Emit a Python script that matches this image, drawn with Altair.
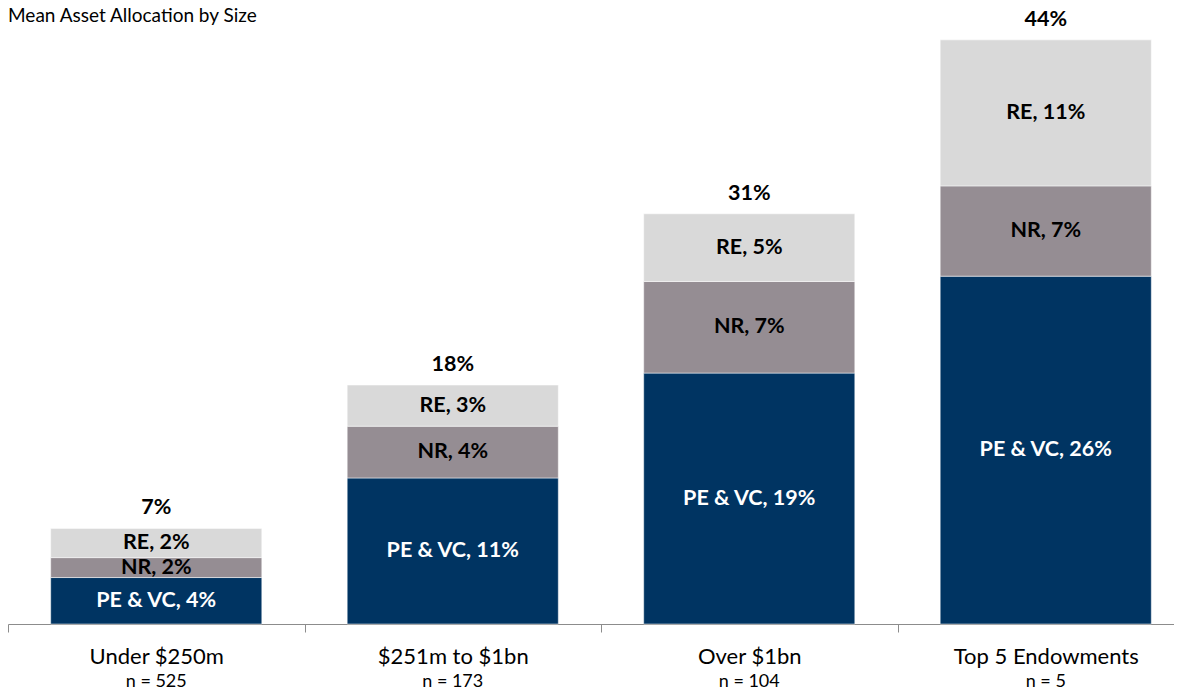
import altair as alt
import pandas as pd

# ---- data ----
categories = ["Under $250m", "$251m to $1bn", "Over $1bn", "Top 5 Endowments"]
n_labels = ["n = 525", "n = 173", "n = 104", "n = 5"]
series = ["PE & VC", "NR", "RE"]
pe_vc = [3.5, 11.0, 18.9, 26.2]
nr = [1.5, 3.9, 6.9, 6.8]
re_ = [2.2, 3.1, 5.1, 11.0]
title_text = "Mean Asset Allocation by Size"

colors = ["#003462", "#958D93", "#D9D9D9"]
FONT = "Lato"

W = 1166          # drawn plot width (page is 1182 wide with 8px margins)
BAND_RANGE = 1186  # the category bands run slightly past the right edge, as in the reference
STEP = BAND_RANGE / len(categories)


def pct(v):
    return f"{int(v + 0.5)}%"


# ---- tables built from the arrays ----
rows = []
totals = []
for i, cat in enumerate(categories):
    base = 0.0
    for s, vals in zip(series, [pe_vc, nr, re_]):
        v = vals[i]
        rows.append({"cat": cat, "series": s, "y0": base, "y1": base + v,
                     "mid": base + v / 2, "label": f"{s}, {pct(v)}"})
        base += v
    totals.append({"cat": cat, "total": base, "label": pct(base), "n": n_labels[i]})

seg = pd.DataFrame(rows)
tot = pd.DataFrame(totals)
ttl = pd.DataFrame({"t": [title_text]})

yscale = alt.Scale(domain=[0, 46.4], nice=False, zero=True)
xscale = alt.Scale(paddingInner=0.288, paddingOuter=0.144, range=[0, BAND_RANGE])
xenc = alt.X(
    "cat:N", sort=categories, scale=xscale,
    axis=alt.Axis(title=None, labelAngle=0, labelFontSize=22, labelColor="#000000",
                  labelFont=FONT, labelPadding=24, labelBaseline="middle", labelLimit=0,
                  tickSize=8, tickOffset=-STEP / 2, labelOffset=STEP / 2,
                  tickColor="#8C8C8C", domainColor="#8C8C8C", grid=False),
)

bars = alt.Chart(seg).mark_bar(stroke="white", strokeWidth=0.5).encode(
    x=xenc,
    y=alt.Y("y1:Q", scale=yscale, axis=None),
    y2="y0:Q",
    color=alt.Color("series:N", scale=alt.Scale(domain=series, range=colors), legend=None),
)

seg_text = alt.Chart(seg).mark_text(
    font=FONT, fontWeight="bold", fontSize=21.5, baseline="middle", align="center"
).encode(
    x=alt.X("cat:N", sort=categories, scale=xscale),
    y=alt.Y("mid:Q", scale=yscale),
    text="label:N",
    color=alt.condition(alt.datum.series == "PE & VC", alt.value("#FFFFFF"), alt.value("#000000")),
)

tot_text = alt.Chart(tot).mark_text(
    font=FONT, fontWeight="bold", fontSize=21.5, baseline="middle", align="center", dy=-20,
    color="#000000",
).encode(
    x=alt.X("cat:N", sort=categories, scale=xscale),
    y=alt.Y("total:Q", scale=yscale),
    text="label:N",
)

n_text = alt.Chart(tot).mark_text(
    font=FONT, fontSize=18, baseline="middle", align="center", color="#000000"
).encode(
    x=alt.X("cat:N", sort=categories, scale=xscale),
    y=alt.value(674),
    text="n:N",
)

title = alt.Chart(ttl).mark_text(
    font=FONT, fontSize=19, baseline="middle", align="left", color="#000000"
).encode(
    x=alt.value(0),
    y=alt.value(8),
    text="t:N",
)

chart = alt.layer(bars, seg_text, tot_text, n_text, title).properties(
    width=W,
    height=616,
    autosize=alt.AutoSizeParams(type="none"),
    padding={"left": 0, "top": 0, "right": 0, "bottom": 70},
).configure(font=FONT).configure_view(stroke=None, strokeWidth=0)

chart.save("out.html", embed_options={"renderer": "svg", "actions": False})
